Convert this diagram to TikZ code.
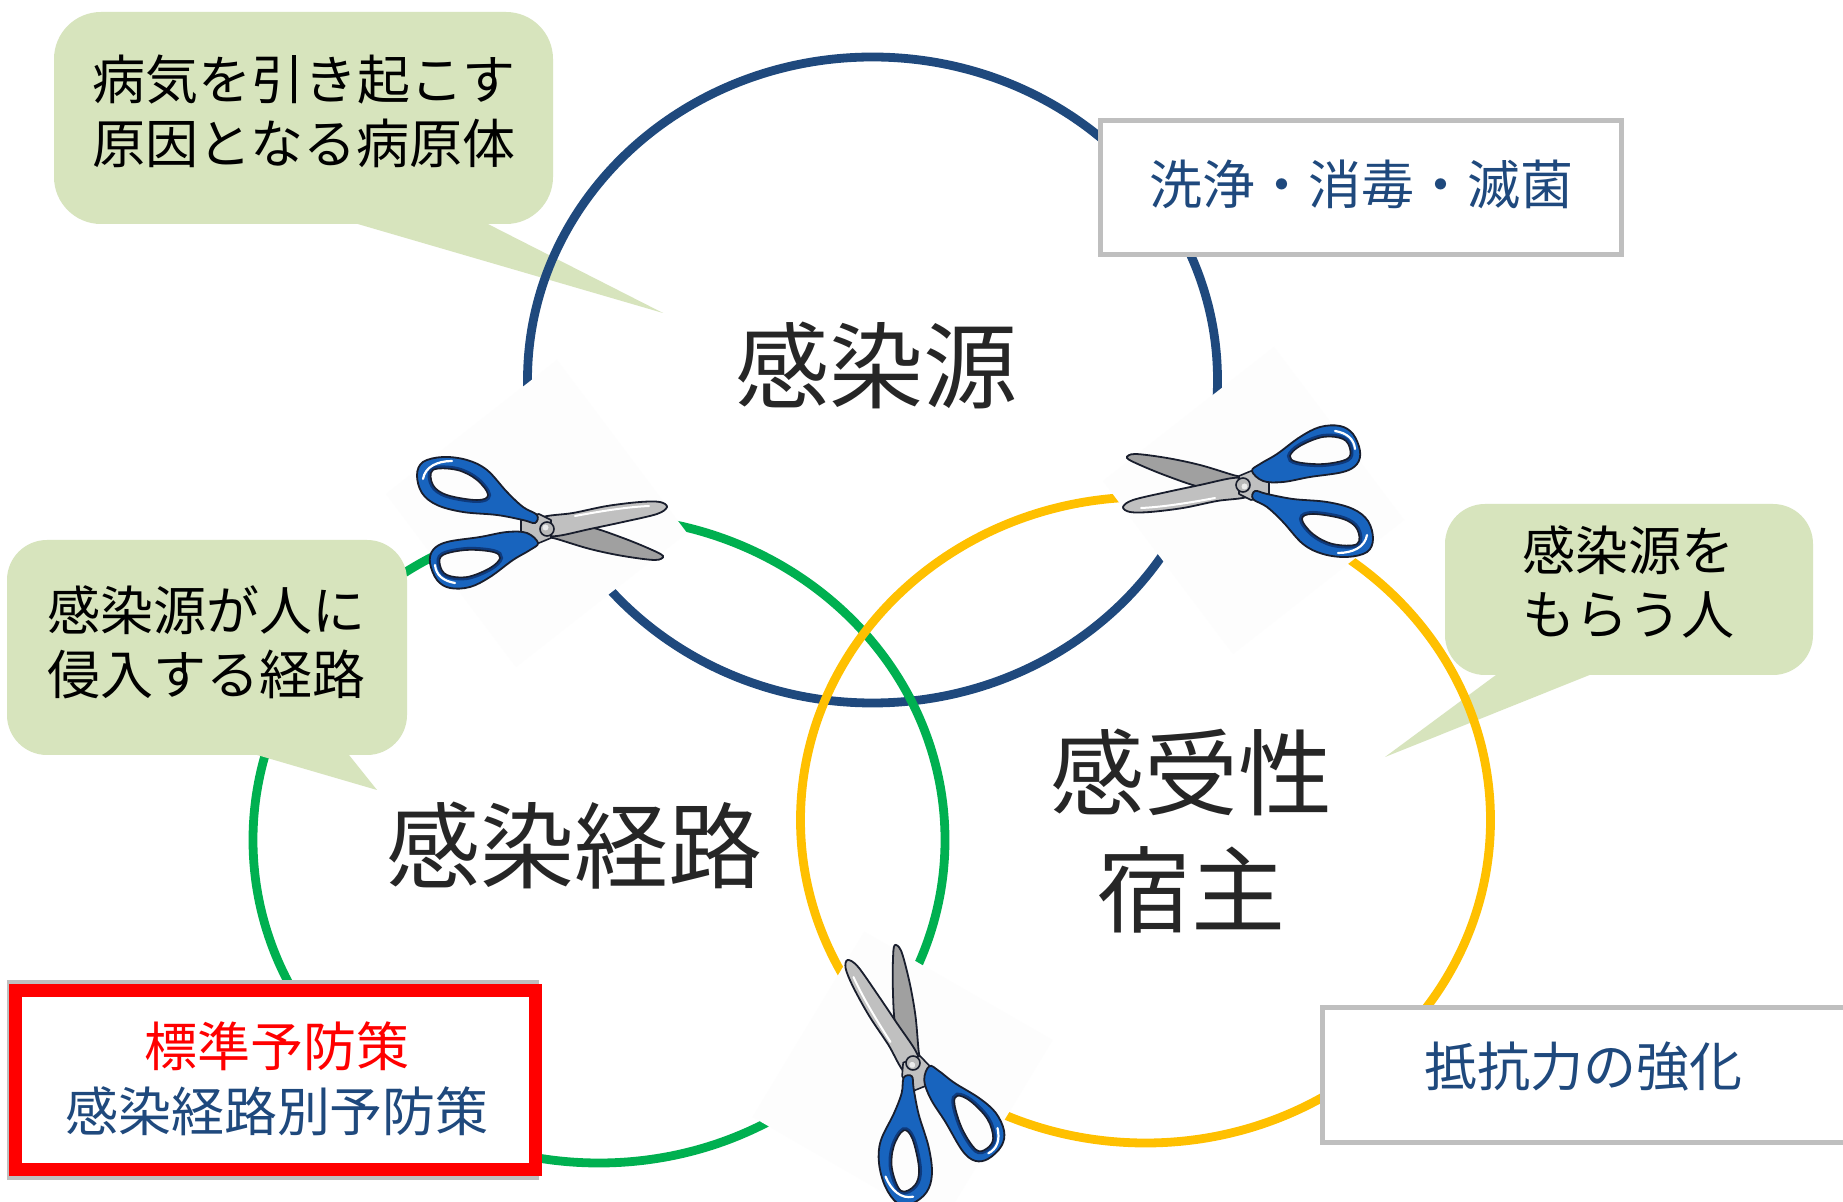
\documentclass[tikz,border=0pt]{standalone}
\usepackage{fontspec}
\setmainfont{Noto Sans CJK JP}
\definecolor{ringblue}{RGB}{31,73,125}
\definecolor{ringgreen}{RGB}{0,176,80}
\definecolor{ringyellow}{RGB}{255,192,0}
\definecolor{bubblefill}{RGB}{215,228,189}
\definecolor{framegray}{RGB}{191,191,191}
\definecolor{navytext}{RGB}{31,73,125}
\definecolor{labelgray}{RGB}{38,38,38}
\definecolor{alertred}{RGB}{255,0,0}
\definecolor{paper}{RGB}{253,253,253}
\definecolor{grip}{RGB}{24,100,190}
\definecolor{gripdark}{RGB}{14,58,125}
\definecolor{outline}{RGB}{25,30,45}
\definecolor{bladelight}{RGB}{192,192,192}
\definecolor{bladedark}{RGB}{160,160,160}

% a pair of shears on its paper square; pivot at the origin, blades towards +x
\tikzset{
  shears/.pic={
    \fill[paper] (10,-169) -- (140,4) -- (-31,138) -- (-161,-35) -- cycle;
    % lower blade
    \filldraw[fill=bladedark, draw=outline, line width=0.9pt]
      plot[smooth cycle, tension=0.55] coordinates {(-8,5) (10,10) (43,20) (76,27) (108,31) (116,27) (103,20) (76,9) (43,-2) (10,-6)};
    % upper blade
    \filldraw[fill=bladelight, draw=outline, line width=0.9pt]
      plot[smooth cycle, tension=0.55] coordinates {(-6,-11) (26,-16) (60,-23) (93,-27) (113,-27) (120,-22) (110,-15) (76,-7) (43,0) (10,7) (-6,5)};
    \draw[white, line width=1pt, line cap=round] (28,-13) .. controls (55,-18) and (80,-22) .. (102,-23);
    % metal collar between the grips
    \filldraw[fill=bladelight, draw=outline, line width=0.8pt, line join=round]
      (-26,-13) -- (-8,-15) -- (4,-9) -- (4,9) -- (-8,14) -- (-26,10) -- cycle;
    % upper grip
    \filldraw[fill=grip, draw=outline, line width=0.9pt]
      plot[smooth cycle, tension=0.6] coordinates {(-10,-14) (-24,-22) (-40,-37) (-60,-59) (-80,-69) (-104,-72) (-124,-67) (-130,-54) (-125,-36) (-110,-24) (-84,-17) (-50,-14) (-24,-9) (-12,-6)};
    \draw[gripdark, line width=3pt]
      plot[smooth cycle, tension=0.6] coordinates {(-114,-59) (-90,-59) (-70,-49) (-59,-34) (-70,-29) (-100,-34) (-114,-44)};
    \filldraw[fill=paper, draw=outline, line width=0.8pt]
      plot[smooth cycle, tension=0.6] coordinates {(-114,-59) (-90,-59) (-70,-49) (-59,-34) (-70,-29) (-100,-34) (-114,-44)};
    \draw[white, line width=1.1pt, line cap=round] (-124,-50) .. controls (-122,-62) and (-110,-68) .. (-95,-68);
    % lower grip
    \filldraw[fill=grip, draw=outline, line width=0.9pt]
      plot[smooth cycle, tension=0.6] coordinates {(-20,4) (-40,3) (-67,8) (-100,13) (-114,21) (-117,34) (-110,51) (-97,59) (-77,58) (-57,48) (-34,31) (-17,21) (-9,14)};
    \draw[gripdark, line width=3pt]
      plot[smooth cycle, tension=0.6] coordinates {(-104,26) (-80,21) (-54,23) (-47,29) (-57,39) (-80,48) (-100,46) (-107,36)};
    \filldraw[fill=paper, draw=outline, line width=0.8pt]
      plot[smooth cycle, tension=0.6] coordinates {(-104,26) (-80,21) (-54,23) (-47,29) (-57,39) (-80,48) (-100,46) (-107,36)};
    \draw[white, line width=1.1pt, line cap=round] (-112,36) .. controls (-111,46) and (-104,52) .. (-92,54);
    % pivot screw
    \filldraw[fill=gray!55, draw=outline, line width=0.8pt] (0,0) circle[radius=7];
    \fill[gray!15] (-1.5,-1.5) circle[radius=3];
  },
  bubble/.style={fill=bubblefill, draw=none, inner sep=0pt},
  frame/.style={draw=framegray, line width=2.5pt, fill=white, inner sep=0pt},
  smalltext/.style={font=\fontsize{26.5}{32}\selectfont, align=center, inner sep=0pt},
  bigtext/.style={font=\fontsize{47}{58.5}\selectfont, align=center, inner sep=0pt, text=labelgray},
  ring/.style={line width=4.4pt}
}

\begin{document}
\begin{tikzpicture}[x=0.5pt,y=-0.5pt]
\useasboundingbox (0,0) rectangle (1843,1202);
\clip (0,0) rectangle (1843,1202);
\fill[white] (0,0) rectangle (1843,1202);

% callouts lying beneath the rings
\node[bubble, rounded corners=23.5pt, minimum width=249.5pt, minimum height=106pt] (pathogen) at (303.5,118) {};
\coordinate (pathogenTip) at (663,313);
\fill[bubblefill] (344,220) -- (pathogenTip) -- (480,220) -- cycle;

\node[bubble, rounded corners=20pt, minimum width=184pt, minimum height=85.5pt] (receiver) at (1629,589.5) {};
\coordinate (receiverTip) at (1385,757);
\fill[bubblefill] (1500,672) -- (receiverTip) -- (1597,672) -- cycle;

% the three rings
\draw[ring, ringblue] (872.5,380) ellipse [x radius=345, y radius=323];
\draw[ring, ringgreen] (599,840) ellipse [x radius=346, y radius=323];
\draw[ring, ringyellow] (1145.5,820) ellipse [x radius=345, y radius=323];

% callout above the green ring
\node[bubble, rounded corners=20pt, minimum width=200pt, minimum height=107.5pt] (route) at (207,647.5) {};
\coordinate (routeTip) at (377,790);
\fill[bubblefill] (240,750) -- (routeTip) -- (345,750) -- cycle;

\node[smalltext] (pathogenText) at (304,111) {病気を引き起こす\\原因となる病原体};
\node[smalltext] (routeText) at (206,642) {感染源が人に\\侵入する経路};
\node[smalltext] (receiverText) at (1628,582) {感染源を\\もらう人};

% measure boxes
\node[frame, minimum width=260.5pt, minimum height=67pt] (cleanBox) at (1361,187.5) {};
\node[smalltext, text=navytext] (cleanText) at (1361,184) {洗浄・消毒・滅菌};

\node[frame, minimum width=272.5pt, minimum height=67.5pt] (resistBox) at (1595,1075) {};
\node[smalltext, text=navytext] (resistText) at (1583,1067) {抵抗力の強化};

\node[draw=framegray, line width=2pt, fill=white, inner sep=0pt, minimum width=264pt, minimum height=98pt] (precShadow) at (273,1080) {};
\node[draw=alertred, line width=6.5pt, fill=white, inner sep=0pt, minimum width=260pt, minimum height=89pt] (precBox) at (275,1080) {};
\node[smalltext, text=alertred] (precStd) at (277,1046) {標準予防策};
\node[smalltext, text=navytext] (precRoute) at (277,1111) {感染経路別予防策};

% shears cutting the chain
\pic (cutLeft) at (547,529) {shears};
\pic[rotate=180] (cutRight) at (1243,485) {shears};
\pic[rotate=112] (cutBottom) at (913,1063) {shears};

% ring labels
\node[bigtext] (source) at (876,366) {感染源};
\node[bigtext] (routeLabel) at (574,846) {感染経路};
\node[bigtext] (host) at (1191,831) {感受性\\宿主};
\end{tikzpicture}
\end{document}
